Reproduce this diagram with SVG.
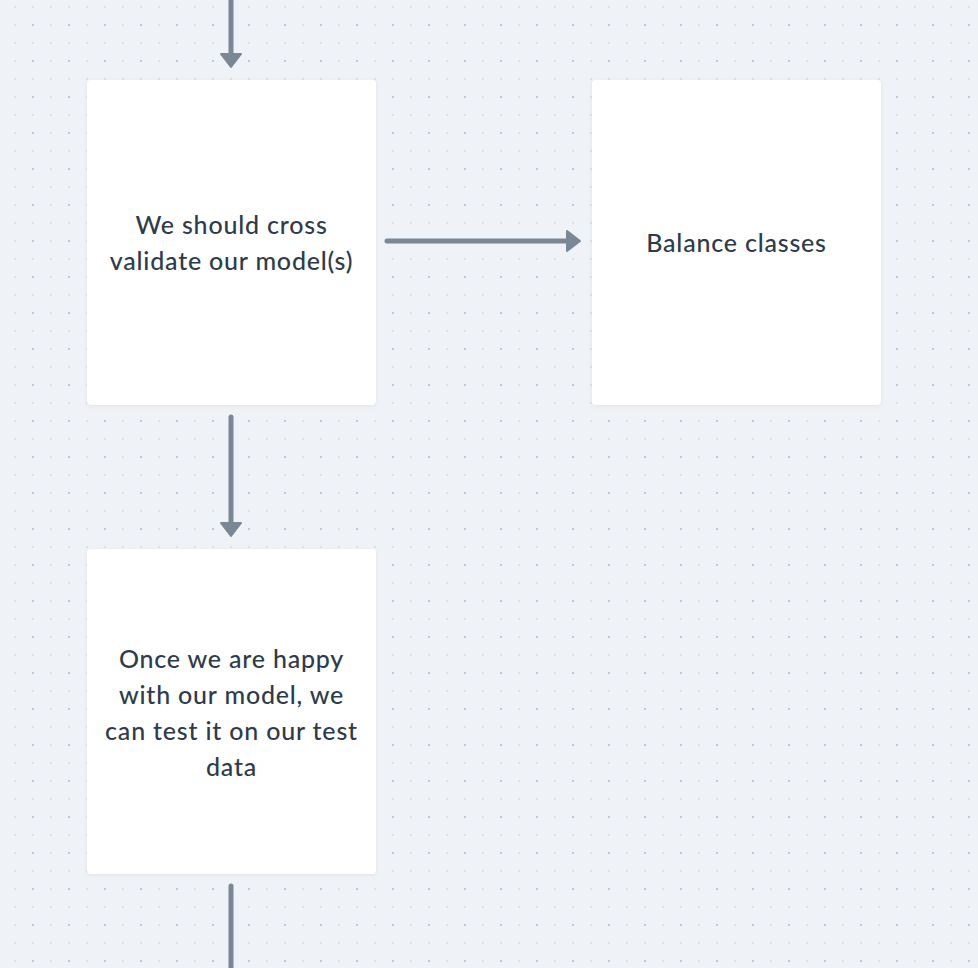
<svg xmlns="http://www.w3.org/2000/svg" width="978" height="968" viewBox="0 0 978 968">
<defs>
<pattern id="dots" x="15" y="7" width="36" height="36" patternUnits="userSpaceOnUse">
<circle cx="0" cy="0" r="0.75" fill="#bfc6d2"/>
<circle cx="18" cy="0" r="0.75" fill="#bfc6d2"/>
<circle cx="0" cy="18" r="0.75" fill="#bfc6d2"/>
<circle cx="18" cy="18" r="1.15" fill="#bfc6d2"/>
<circle cx="36" cy="0" r="0.75" fill="#bfc6d2"/>
<circle cx="0" cy="36" r="0.75" fill="#bfc6d2"/>
<circle cx="36" cy="36" r="0.75" fill="#bfc6d2"/>
<circle cx="36" cy="18" r="0.75" fill="#bfc6d2"/>
<circle cx="18" cy="36" r="0.75" fill="#bfc6d2"/>
</pattern>
<filter id="shadow" x="-10%" y="-10%" width="120%" height="120%">
<feDropShadow dx="0" dy="1" stdDeviation="2" flood-color="#8a97a8" flood-opacity="0.18"/>
</filter>
<marker id="arrow" markerUnits="userSpaceOnUse" markerWidth="24" markerHeight="24" refX="2" refY="12" orient="auto">
<path d="M2,2 L15,12 L2,22 Z" fill="#7b8794" stroke="#7b8794" stroke-width="2" stroke-linejoin="round"/>
</marker>
</defs>
<style>
.node rect { fill: #ffffff; filter: url(#shadow); }
.node text { font-family: "Lato", "Liberation Sans", sans-serif; font-size: 25px; font-weight: 500; letter-spacing: 0.8px; fill: #2e3b49; text-anchor: middle; }
.edge { stroke: #7b8794; stroke-width: 5; stroke-linecap: round; fill: none; }
</style>
<rect x="0" y="0" width="978" height="968" fill="#eff3f7"/>
<rect x="0" y="0" width="978" height="968" fill="url(#dots)"/>
<g id="connectors">
<path class="edge" d="M231,-5 L231,54" marker-end="url(#arrow)"/>
<path class="edge" d="M387,241 L567,241" marker-end="url(#arrow)"/>
<path class="edge" d="M231,417 L231,523" marker-end="url(#arrow)"/>
<path class="edge" d="M231,886 L231,975"/>
</g>
<g id="node-cross-validate" class="node">
<rect x="87" y="80" width="289" height="325" rx="4"/>
<text x="231.5" y="234">We should cross</text>
<text x="231.5" y="270">validate our model(s)</text>
</g>
<g id="node-balance" class="node">
<rect x="592" y="80" width="289" height="325" rx="4"/>
<text x="736.5" y="252">Balance classes</text>
</g>
<g id="node-test" class="node">
<rect x="87" y="549" width="289" height="325" rx="4"/>
<text x="231.5" y="668">Once we are happy</text>
<text x="231.5" y="704">with our model, we</text>
<text x="231.5" y="740">can test it on our test</text>
<text x="231.5" y="776">data</text>
</g>
</svg>
